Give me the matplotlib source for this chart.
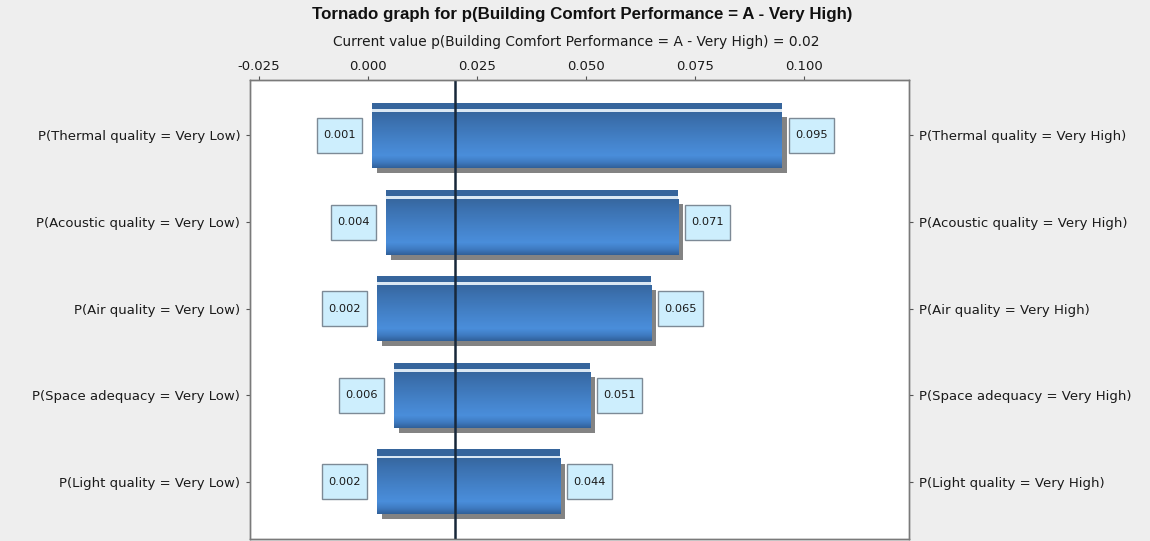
import numpy as np
import matplotlib
matplotlib.use("Agg")
import matplotlib.pyplot as plt
from matplotlib import font_manager
from matplotlib.patches import Rectangle
from matplotlib.transforms import ScaledTranslation, offset_copy

# --- data -------------------------------------------------------------
factors = ["Thermal quality", "Acoustic quality", "Air quality",
           "Space adequacy", "Light quality"]
low_values = [0.001, 0.004, 0.002, 0.006, 0.002]
high_values = [0.095, 0.071, 0.065, 0.051, 0.044]
current_value = 0.02
x_ticks = [-0.025, 0.000, 0.025, 0.050, 0.075, 0.100]
target = "p(Building Comfort Performance = A - Very High)"

left_labels = [f"P({f} = Very Low)" for f in factors]
right_labels = [f"P({f} = Very High)" for f in factors]

# --- fonts ------------------------------------------------------------
available = {f.name for f in font_manager.fontManager.ttflist}
title_family = [f for f in ["Liberation Sans Narrow", "Liberation Sans", "DejaVu Sans"]
                if f in available][:1] + ["DejaVu Sans"]
plt.rcParams["font.family"] = ["DejaVu Sans"]

BG = "#eeeeee"
fig = plt.figure(figsize=(11.5, 5.41), dpi=100, facecolor=BG)
# axes frame in pixels: x 250..909, y 80..539 (from top)
W, H = 1150, 541
ax = fig.add_axes([250 / W, 1 - 539 / H, (909 - 250) / W, (539 - 80) / H])
ax.set_facecolor("white")

xlim = (-0.0271, 0.1241)
ylim = (4.66, -0.64)
ax.set_xlim(*xlim)
ax.set_ylim(*ylim)

# vertical gradient of the main bar body (top -> bottom)
stops = [(0.0, "#37679f"), (0.15, "#3b70ae"), (0.55, "#4584cc"),
         (0.78, "#4a8edb"), (0.90, "#3f7bc2"), (1.0, "#31619a")]
pos = np.linspace(0, 1, 64)
rgb = np.array([matplotlib.colors.to_rgb(c) for _, c in stops])
sp = np.array([s for s, _ in stops])
grad = np.stack([np.interp(pos, sp, rgb[:, k]) for k in range(3)], axis=1)
grad_img = grad[:, None, :]

half = 0.375
strip_bot = -half + 0.072
body_top = strip_bot + 0.035

shadow_tr = offset_copy(ax.transData, fig=fig, x=5, y=-5, units="dots")

for i, (lo, hi) in enumerate(zip(low_values, high_values)):
    # drop shadow
    ax.add_patch(Rectangle((lo, i + body_top), hi - lo, (half - body_top),
                           transform=shadow_tr, facecolor="#838383",
                           edgecolor="none", zorder=1))
    # white separator band
    ax.add_patch(Rectangle((lo, i + strip_bot), hi - lo, body_top - strip_bot,
                           facecolor="#dbe8f3", edgecolor="none", zorder=2))
    # dark top strip
    ax.add_patch(Rectangle((lo, i - half), hi - lo, strip_bot + half,
                           facecolor="#36659c", edgecolor="none", zorder=2))
    # gradient body
    ax.imshow(grad_img, extent=(lo, hi, i + half, i + body_top),
              origin="upper", aspect="auto", interpolation="bilinear",
              zorder=2)

    # value boxes
    bw, bh = 0.45, 0.35
    for val, side in ((lo, -1), (hi, 1)):
        tr = fig.dpi_scale_trans + ScaledTranslation(val, i, ax.transData)
        if side < 0:
            x0 = -0.10 - bw
        else:
            x0 = 0.07
        ax.add_patch(Rectangle((x0, -bh / 2), bw, bh, transform=tr,
                               facecolor="#cdeefd", edgecolor="#7d8a96",
                               linewidth=1.0, zorder=4, clip_on=False))
        ax.text(x0 + bw / 2, 0.0, f"{val:.3f}", transform=tr,
                ha="center", va="center", fontsize=8.2, color="#1a1a1a",
                zorder=5)

ax.set_xlim(*xlim)
ax.set_ylim(*ylim)

# current value marker
ax.axvline(current_value, color="#18283a", linewidth=1.8, zorder=6)

# axes styling
ax.xaxis.tick_top()
ax.set_xticks(x_ticks)
ax.set_xticklabels([f"{t:.3f}" for t in x_ticks])
ax.tick_params(axis="x", direction="out", length=3, width=0.8, pad=2,
               labelsize=9.5, colors="#555555", labelcolor="#1a1a1a")
ax.set_yticks(range(len(factors)))
ax.set_yticklabels(left_labels)
ax.tick_params(axis="y", direction="out", length=3, width=0.8, pad=4,
               labelsize=9.5, colors="#555555", labelcolor="#1a1a1a")

ax2 = ax.twinx()
ax2.set_ylim(*ylim)
ax2.set_yticks(range(len(factors)))
ax2.set_yticklabels(right_labels)
ax2.tick_params(axis="y", direction="out", length=3, width=0.8, pad=4,
                labelsize=9.5, colors="#555555", labelcolor="#1a1a1a")

for a in (ax, ax2):
    for s in a.spines.values():
        s.set_color("#7a7a7a")
        s.set_linewidth(1.0)

fig.text(582 / W, 1 - 15 / H, f"Tornado graph for {target}",
         ha="center", va="center", fontsize=12.2, fontweight="bold",
         family=title_family, color="#111111")
fig.text(576 / W, 1 - 42 / H, f"Current value {target} = {current_value}",
         ha="center", va="center", fontsize=9.9, color="#1a1a1a")

fig.savefig("out.png", dpi=100, facecolor=BG)
